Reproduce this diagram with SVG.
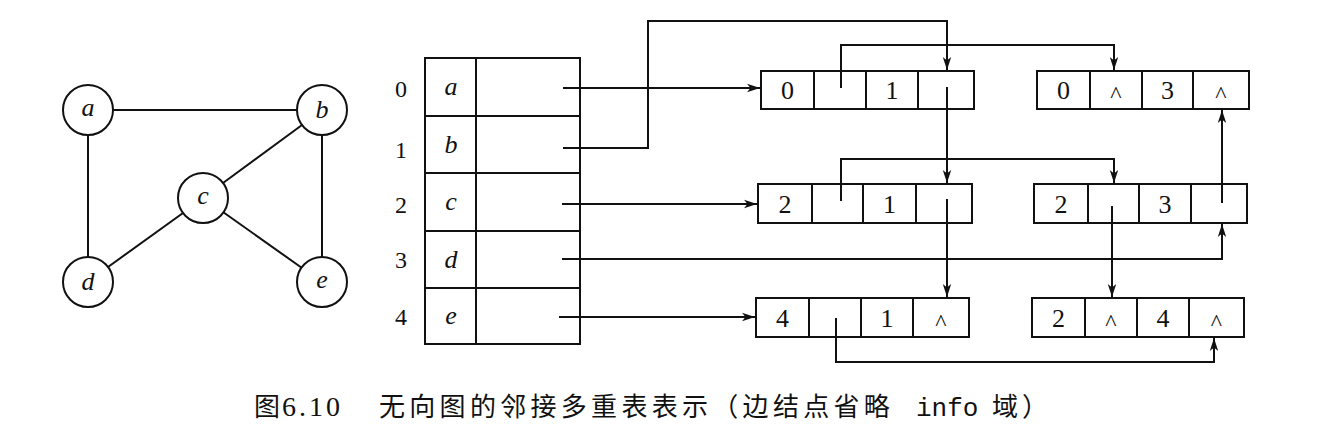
<svg xmlns="http://www.w3.org/2000/svg" width="1337" height="435" viewBox="0 0 1337 435">
<style>
.ln{fill:none;stroke:#111;stroke-width:2}
.bx{fill:#fff;stroke:#111;stroke-width:2}
.it{font-family:"Liberation Serif",serif;font-style:italic;font-size:26px;fill:#111;text-anchor:middle}
.num{font-family:"Liberation Serif",serif;font-size:26px;fill:#111;text-anchor:middle}
.idx{font-family:"Liberation Serif",serif;font-size:24px;fill:#111;text-anchor:middle}
.car{font-family:"Liberation Serif",serif;font-size:24px;fill:#111;text-anchor:middle}
.cap{font-family:"Noto Sans CJK SC",sans-serif;font-size:26px;fill:#111}
</style>
<defs>
<marker id="ah" markerUnits="userSpaceOnUse" markerWidth="14" markerHeight="10" refX="13" refY="5" orient="auto">
<path d="M0,0.8 L13,5 L0,9.2 L3.5,5 z" fill="#111"/>
</marker>
</defs>
<rect width="1337" height="435" fill="#fff"/>

<!-- undirected graph -->
<g id="graph-edges">
<line class="ln" x1="113" y1="110" x2="297" y2="110"/>
<line class="ln" x1="88" y1="135" x2="88" y2="257"/>
<line class="ln" x1="322" y1="135" x2="322" y2="257"/>
<line class="ln" x1="223" y1="183" x2="302" y2="125"/>
<line class="ln" x1="183" y1="213" x2="108" y2="267"/>
<line class="ln" x1="223" y1="212" x2="302" y2="268"/>
</g>
<g id="v-a"><circle class="bx" cx="88" cy="110" r="25"/><text class="it" x="88" y="116">a</text></g>
<g id="v-b"><circle class="bx" cx="322" cy="110" r="25"/><text class="it" x="322" y="118">b</text></g>
<g id="v-c"><circle class="bx" cx="203" cy="198" r="25"/><text class="it" x="203" y="204">c</text></g>
<g id="v-d"><circle class="bx" cx="88" cy="282" r="25"/><text class="it" x="88" y="290">d</text></g>
<g id="v-e"><circle class="bx" cx="322" cy="282" r="25"/><text class="it" x="322" y="288">e</text></g>

<!-- vertex table -->
<g id="vertex-table">
<rect class="bx" x="425" y="58" width="155" height="286"/>
<line class="ln" x1="476" y1="58" x2="476" y2="344"/>
<line class="ln" x1="425" y1="116" x2="580" y2="116"/>
<line class="ln" x1="425" y1="173" x2="580" y2="173"/>
<line class="ln" x1="425" y1="231" x2="580" y2="231"/>
<line class="ln" x1="425" y1="288" x2="580" y2="288"/>
<text class="idx" x="401" y="97">0</text>
<text class="idx" x="401" y="158">1</text>
<text class="idx" x="401" y="213">2</text>
<text class="idx" x="401" y="268">3</text>
<text class="idx" x="401" y="325">4</text>
<text class="it" x="451" y="95">a</text>
<text class="it" x="451" y="153">b</text>
<text class="it" x="451" y="210">c</text>
<text class="it" x="451" y="268">d</text>
<text class="it" x="451" y="324">e</text>
</g>

<!-- edge nodes -->
<g id="edge-0-1">
<rect class="bx" x="761" y="71" width="213" height="38"/>
<line class="ln" x1="814" y1="71" x2="814" y2="109"/>
<line class="ln" x1="866" y1="71" x2="866" y2="109"/>
<line class="ln" x1="918" y1="71" x2="918" y2="109"/>
<text class="num" x="787.5" y="99">0</text>
<text class="num" x="892" y="99">1</text>
</g>
<g id="edge-0-3">
<rect class="bx" x="1037" y="71" width="212" height="38"/>
<line class="ln" x1="1090" y1="71" x2="1090" y2="109"/>
<line class="ln" x1="1142" y1="71" x2="1142" y2="109"/>
<line class="ln" x1="1193" y1="71" x2="1193" y2="109"/>
<text class="num" x="1063.5" y="99">0</text>
<text class="car" x="1116" y="102">^</text>
<text class="num" x="1167.5" y="99">3</text>
<text class="car" x="1221" y="102">^</text>
</g>
<g id="edge-2-1">
<rect class="bx" x="758" y="184" width="214" height="39"/>
<line class="ln" x1="812" y1="184" x2="812" y2="223"/>
<line class="ln" x1="863" y1="184" x2="863" y2="223"/>
<line class="ln" x1="916" y1="184" x2="916" y2="223"/>
<text class="num" x="785" y="212.5">2</text>
<text class="num" x="889.5" y="212.5">1</text>
</g>
<g id="edge-2-3">
<rect class="bx" x="1034" y="184" width="213" height="39"/>
<line class="ln" x1="1088" y1="184" x2="1088" y2="223"/>
<line class="ln" x1="1139" y1="184" x2="1139" y2="223"/>
<line class="ln" x1="1191" y1="184" x2="1191" y2="223"/>
<text class="num" x="1061" y="212.5">2</text>
<text class="num" x="1165" y="212.5">3</text>
</g>
<g id="edge-4-1">
<rect class="bx" x="756" y="298" width="213" height="39"/>
<line class="ln" x1="809" y1="298" x2="809" y2="337"/>
<line class="ln" x1="861" y1="298" x2="861" y2="337"/>
<line class="ln" x1="913" y1="298" x2="913" y2="337"/>
<text class="num" x="782.5" y="326.5">4</text>
<text class="num" x="887" y="326.5">1</text>
<text class="car" x="941" y="329.5">^</text>
</g>
<g id="edge-2-4">
<rect class="bx" x="1032" y="298" width="212" height="39"/>
<line class="ln" x1="1085" y1="298" x2="1085" y2="337"/>
<line class="ln" x1="1137" y1="298" x2="1137" y2="337"/>
<line class="ln" x1="1189" y1="298" x2="1189" y2="337"/>
<text class="num" x="1058.5" y="326.5">2</text>
<text class="car" x="1111" y="329.5">^</text>
<text class="num" x="1163" y="326.5">4</text>
<text class="car" x="1216.5" y="329.5">^</text>
</g>

<!-- connectors -->
<g id="connectors" class="ln" marker-end="url(#ah)">
<polyline points="563,88 760,88"/>
<polyline points="563,148 648,148 648,21 947,21 947,70"/>
<polyline points="562,204 757,204"/>
<polyline points="562,259 1222,259 1222,224"/>
<polyline points="559,317 755,317"/>
<polyline points="841,88 841,45 1114,45 1114,70"/>
<polyline points="947,87 947,183"/>
<polyline points="841,201 841,159 1114,159 1114,183"/>
<polyline points="947,199 947,297"/>
<polyline points="1112,206 1112,297"/>
<polyline points="1222,203 1222,110"/>
<polyline points="836,318 836,362 1214,362 1214,338"/>
</g>

<!-- caption -->
<g id="caption">
<text class="cap" x="254" y="416">图</text>
<text x="282" y="416" style="font-family:'Liberation Serif',serif;font-size:28px;letter-spacing:3px;fill:#111">6.10</text>
<text class="cap" x="379" y="416" style="letter-spacing:4.3px">无向图的邻接多重表表示（边结点省略</text>
<text x="916" y="416" style="font-family:'Liberation Mono',monospace;font-size:26px;fill:#111">info</text>
<text class="cap" x="992" y="416" style="letter-spacing:4px">域）</text>
</g>
</svg>
